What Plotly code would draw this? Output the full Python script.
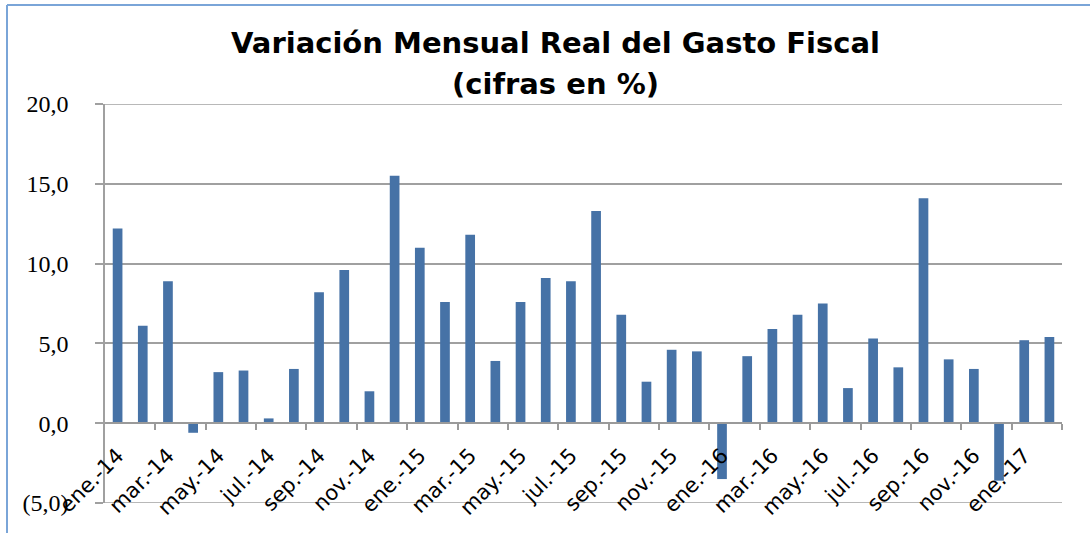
import plotly.graph_objects as go

months = ["ene.-14", "feb.-14", "mar.-14", "abr.-14", "may.-14", "jun.-14", "jul.-14", "ago.-14",
          "sep.-14", "oct.-14", "nov.-14", "dic.-14",
          "ene.-15", "feb.-15", "mar.-15", "abr.-15", "may.-15", "jun.-15", "jul.-15", "ago.-15",
          "sep.-15", "oct.-15", "nov.-15", "dic.-15",
          "ene.-16", "feb.-16", "mar.-16", "abr.-16", "may.-16", "jun.-16", "jul.-16", "ago.-16",
          "sep.-16", "oct.-16", "nov.-16", "dic.-16",
          "ene.-17", "feb.-17"]
values = [12.2, 6.1, 8.9, -0.6, 3.2, 3.3, 0.3, 3.4, 8.2, 9.6, 2.0, 15.5,
          11.0, 7.6, 11.8, 3.9, 7.6, 9.1, 8.9, 13.3, 6.8, 2.6, 4.6, 4.5,
          -3.5, 4.2, 5.9, 6.8, 7.5, 2.2, 5.3, 3.5, 14.1, 4.0, 3.4, -3.6,
          5.2, 5.4]
y_ticks = [-5, 0, 5, 10, 15, 20]
y_tick_text = ["(5,0)", "0,0", "5,0", "10,0", "15,0", "20,0"]
title_lines = ["Variación Mensual Real del Gasto Fiscal", "(cifras en %)"]

idx = list(range(len(months)))
label_idx = idx[::2]

fig = go.Figure()
fig.add_trace(go.Bar(x=idx, y=values, marker=dict(color="#4672A6", line=dict(width=0)),
                     width=0.385, showlegend=False))

W, H = 1090, 533
ml, mr, mt, mb = 105, 28, 104, 30
pw, ph = W - ml - mr, H - mt - mb

def px_x(p):
    return (p - ml) / pw

def px_y(p):
    return (H - mb - p) / ph

grid_color = "#a0a0a0"
edge_lines = [dict(type="line", xref="paper", yref="y", x0=0, x1=1, y0=v, y1=v,
                   line=dict(color=grid_color, width=1.5), layer="below")
              for v in (y_ticks[0], y_ticks[-1])]

fig.update_layout(
    width=W, height=H,
    margin=dict(l=ml, r=mr, t=mt, b=mb),
    paper_bgcolor="white", plot_bgcolor="white",
    bargap=0.6,
    xaxis=dict(
        range=[-0.5, len(months) - 0.5],
        tickmode="array", tickvals=label_idx, ticktext=[months[i] for i in label_idx],
        tickangle=-45, ticks="", showgrid=False, zeroline=False,
        showline=True, linecolor="#9a9a9a", linewidth=1.5,
        anchor="free", position=5 / 25,
        tickfont=dict(family="DejaVu Sans", size=21, color="black"),
        ticklabelstandoff=11,
        minor=dict(tickmode="array", tickvals=[i + 1.5 for i in idx[::2]], ticks="outside",
                   ticklen=6, tickcolor="#9a9a9a", tickwidth=1.5, showgrid=False),
    ),
    yaxis=dict(
        range=[-5, 20], tickmode="array", tickvals=y_ticks, ticktext=y_tick_text,
        showgrid=True, gridcolor=grid_color, gridwidth=1.5, zeroline=False,
        showline=True, linecolor=grid_color, linewidth=1.5,
        ticks="outside", ticklen=8, tickcolor=grid_color, tickwidth=1.5,
        tickfont=dict(family="Liberation Serif", size=24, color="black"),
        ticklabelstandoff=22,
    ),
    shapes=edge_lines + [
        dict(type="line", xref="paper", yref="paper", x0=px_x(7), x1=px_x(W + 5),
             y0=px_y(5), y1=px_y(5), line=dict(color="#7aa5d8", width=2)),
        dict(type="line", xref="paper", yref="paper", x0=px_x(7), x1=px_x(7),
             y0=px_y(5), y1=px_y(H + 5), line=dict(color="#7aa5d8", width=2)),
    ],
    annotations=[
        dict(text="<b>%s</b>" % title_lines[0], xref="paper", yref="paper",
             x=px_x(555), y=px_y(43), xanchor="center", yanchor="middle", showarrow=False,
             font=dict(family="DejaVu Sans", size=29, color="black")),
        dict(text="<b>%s</b>" % title_lines[1], xref="paper", yref="paper",
             x=px_x(555), y=px_y(84), xanchor="center", yanchor="middle", showarrow=False,
             font=dict(family="DejaVu Sans", size=29, color="black")),
    ],
)

fig.write_html("out.html", config={"displayModeBar": False},
               post_script="document.body.style.margin='0px';document.body.style.overflow='hidden';")
